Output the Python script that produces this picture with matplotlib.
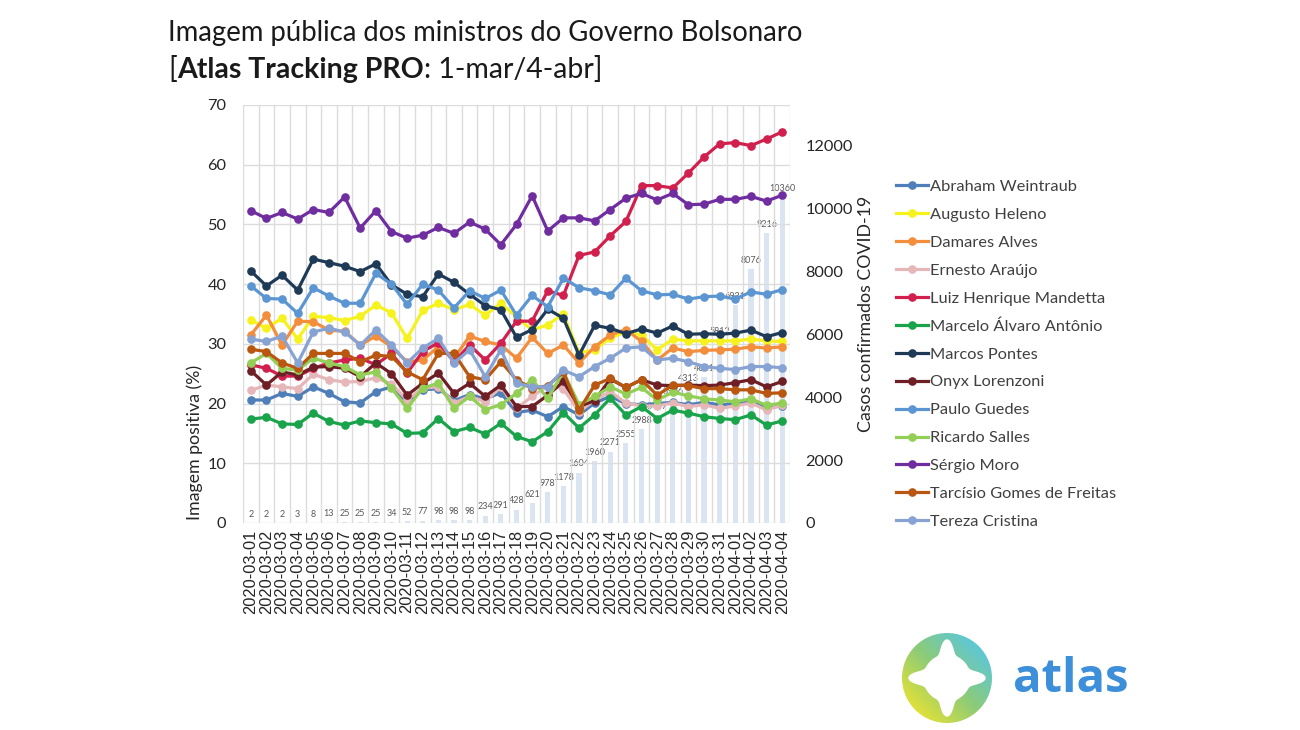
import numpy as np
import matplotlib
matplotlib.use('Agg')
import matplotlib.pyplot as plt
from matplotlib.patches import Circle, Polygon
from matplotlib.colors import LinearSegmentedColormap

# ---------------------------------------------------------
# Data
# ---------------------------------------------------------
dates = [f'2020-03-{d:02d}' for d in range(1, 32)] + [f'2020-04-{d:02d}' for d in range(1, 5)]

cases = [2, 2, 2, 3, 8, 13, 25, 25, 25, 34, 52, 77, 98, 98, 98, 234, 291, 428, 621,
         978, 1178, 1604, 1960, 2271, 2555, 2988, 3417, 3906, 4313, 4641, 5812, 6931,
         8076, 9216, 10360]

abraham = [20.6, 20.6, 21.7, 21.2, 22.8, 21.7, 20.3, 20.1, 22.0, 22.8, 20.3, 22.3, 22.5, 20.5,
           21.5, 20.8, 21.8, 18.5, 18.9, 17.8, 19.5, 18.1, 20.1, 21.2, 20.0, 19.8, 20.0, 20.2,
           19.8, 20.2, 19.8, 20.0, 20.3, 19.3, 19.6]
heleno = [34.0, 32.6, 34.3, 30.8, 34.6, 34.4, 33.9, 34.6, 36.5, 35.2, 30.9, 35.6, 36.8, 35.7,
          36.6, 34.8, 36.8, 34.5, 32.3, 33.2, 35.0, 28.5, 29.0, 31.0, 32.0, 31.5, 29.0, 30.8,
          30.5, 30.5, 30.5, 30.5, 30.8, 30.5, 30.4]
damares = [31.5, 34.8, 29.8, 33.8, 33.7, 32.3, 32.1, 29.8, 31.3, 29.5, 27.0, 27.3, 29.5, 27.6,
           31.3, 30.4, 29.8, 27.6, 31.1, 28.4, 29.8, 26.8, 29.5, 31.5, 32.4, 30.4, 27.3, 29.3,
           28.7, 28.9, 29.0, 29.1, 29.5, 29.3, 29.5]
ernesto = [22.2, 23.1, 22.8, 22.5, 24.9, 24.0, 23.6, 23.7, 24.3, 23.3, 20.6, 22.6, 22.8, 20.1,
           21.2, 20.3, 22.8, 19.2, 21.2, 23.0, 22.5, 18.6, 20.6, 22.0, 20.1, 19.6, 19.6, 20.1,
           19.5, 19.8, 19.2, 19.6, 20.1, 18.9, 19.8]
mandetta = [26.5, 25.9, 24.6, 24.6, 25.9, 26.8, 27.3, 27.6, 26.5, 28.4, 25.1, 28.7, 30.2, 27.0,
            29.8, 27.3, 30.1, 33.8, 33.8, 38.9, 38.1, 44.8, 45.4, 48.1, 50.5, 56.5, 56.5, 56.1,
            58.6, 61.3, 63.5, 63.7, 63.2, 64.3, 65.5]
marcelo = [17.4, 17.7, 16.6, 16.5, 18.4, 17.0, 16.4, 17.1, 16.8, 16.6, 15.0, 15.1, 17.5, 15.3,
           16.0, 14.9, 16.7, 14.5, 13.6, 15.3, 18.5, 15.9, 18.1, 20.9, 18.1, 19.5, 17.5, 18.9,
           18.4, 17.8, 17.5, 17.3, 18.1, 16.4, 17.1]
pontes = [42.2, 39.7, 41.5, 39.0, 44.2, 43.6, 43.0, 42.1, 43.4, 39.9, 38.3, 37.9, 41.7, 40.3,
          38.3, 36.4, 35.7, 31.1, 32.4, 35.8, 34.3, 28.1, 33.1, 32.6, 31.7, 32.5, 31.8, 33.0,
          31.6, 31.7, 31.6, 31.8, 32.3, 31.2, 31.9]
onyx = [25.5, 23.1, 25.3, 24.8, 26.1, 26.2, 25.9, 24.5, 26.8, 25.0, 21.4, 23.4, 25.1, 21.7,
        23.4, 21.2, 23.1, 19.5, 19.5, 21.4, 23.7, 19.5, 20.5, 24.1, 22.7, 24.0, 23.1, 23.0,
        23.1, 23.0, 23.1, 23.5, 24.0, 22.8, 23.7]
guedes = [39.7, 37.6, 37.5, 35.1, 39.4, 38.0, 36.8, 36.8, 41.8, 40.0, 36.6, 40.0, 39.0, 36.0,
          38.9, 37.6, 39.0, 34.8, 38.1, 36.2, 41.0, 39.4, 38.9, 38.2, 41.0, 38.9, 38.2, 38.3,
          37.5, 37.9, 38.0, 37.5, 38.7, 38.3, 39.1]
salles = [26.8, 28.4, 25.9, 25.6, 27.6, 26.8, 26.2, 24.8, 25.3, 22.6, 19.2, 22.6, 23.4, 19.2,
          21.2, 19.0, 19.8, 21.7, 24.0, 20.9, 25.3, 19.8, 21.2, 22.8, 21.6, 22.7, 20.6, 21.9,
          21.3, 20.8, 20.6, 20.3, 20.8, 19.7, 20.1]
moro = [52.3, 51.0, 52.0, 50.9, 52.5, 52.0, 54.6, 49.4, 52.3, 48.8, 47.7, 48.2, 49.5, 48.5,
        50.4, 49.2, 46.6, 50.0, 54.8, 48.9, 51.1, 51.1, 50.6, 52.5, 54.4, 55.2, 54.1, 55.2,
        53.3, 53.4, 54.2, 54.2, 54.7, 53.9, 54.9]
tarcisio = [29.1, 28.7, 26.8, 25.9, 28.4, 28.4, 28.4, 27.0, 28.1, 27.9, 25.3, 24.0, 28.4, 28.4,
            24.5, 24.0, 27.0, 24.0, 22.5, 23.0, 25.3, 18.9, 23.1, 24.2, 22.7, 24.0, 21.4, 23.1,
            23.0, 22.5, 22.5, 22.3, 22.3, 21.7, 21.8]
tereza = [30.8, 30.4, 31.3, 26.8, 32.0, 32.6, 32.0, 29.8, 32.3, 29.8, 26.8, 29.3, 30.9, 26.8,
          29.0, 24.5, 29.0, 23.4, 22.8, 22.8, 25.6, 24.5, 26.2, 27.6, 29.3, 29.5, 27.3, 27.6,
          27.0, 26.2, 25.9, 25.7, 26.2, 26.2, 26.0]

names = ['Abraham Weintraub', 'Augusto Heleno', 'Damares Alves', 'Ernesto Araújo',
         'Luiz Henrique Mandetta', 'Marcelo Álvaro Antônio', 'Marcos Pontes', 'Onyx Lorenzoni',
         'Paulo Guedes', 'Ricardo Salles', 'Sérgio Moro', 'Tarcísio Gomes de Freitas',
         'Tereza Cristina']
series = [abraham, heleno, damares, ernesto, mandetta, marcelo, pontes, onyx, guedes,
          salles, moro, tarcisio, tereza]
colors = ['#4f7fb8', '#f6f21e', '#f28e3c', '#e6b7b9', '#d11f4e', '#19a34a', '#1f3a56',
          '#6e1f25', '#5b96d2', '#93cf57', '#6f2da0', '#b9560f', '#86a3d3']

# ---------------------------------------------------------
# Figure
# ---------------------------------------------------------
plt.rcParams['font.family'] = ['Lato', 'DejaVu Sans']
fig = plt.figure(figsize=(13, 7.3), dpi=100)
fig.patch.set_facecolor('white')

ax = fig.add_axes([243 / 1300, 1 - 523 / 730, 547 / 1300, 418 / 730])
ax2 = ax.twinx()
x = np.arange(len(dates))

# COVID bars on the right axis (behind)
ax2.bar(x, cases, width=0.33, color='#dbe5f1', zorder=1)
for xi, c in zip(x, cases):
    ax2.annotate(str(c), (xi, c), xytext=(0, 3), textcoords='offset points',
                 ha='center', va='bottom', fontsize=6.5, color='#595959')
ax2.set_ylim(0, 13300)
ax2.set_yticks(range(0, 12001, 2000))
ax2.tick_params(axis='y', length=0, labelsize=11.8, labelcolor='#262626', pad=11)
ax2.set_ylabel('Casos confirmados COVID-19', fontsize=12.8, color='#262626', labelpad=4)

# minister lines on the left axis (front)
ax.set_zorder(ax2.get_zorder() + 1)
ax.patch.set_visible(False)
for name, vals, col in zip(names, series, colors):
    ax.plot(x, vals, color=col, lw=2.3, marker='o', ms=5.2, label=name, zorder=3)

ax.set_xlim(-0.5, len(dates) - 0.5)
ax.set_ylim(0, 70)
ax.set_yticks(range(0, 71, 10))
ax.set_xticks(x)
ax.set_xticklabels(dates, rotation=90, fontsize=11, family='Liberation Sans', color='#262626')
ax.tick_params(axis='both', length=0, labelsize=11.8, labelcolor='#262626')
ax.tick_params(axis='y', pad=12)
ax.tick_params(axis='x', pad=5)
ax.set_xticks(np.arange(-0.5, len(dates)), minor=True)
ax.grid(False)
ax.grid(axis='x', which='minor', color='#dcdcdc', lw=1)
ax.grid(axis='y', which='major', color='#dcdcdc', lw=1)
ax.tick_params(axis='x', which='minor', length=0)
for a in (ax, ax2):
    for s in a.spines.values():
        s.set_visible(False)
ax.set_axisbelow(True)

fig.text(195 / 1300, 1 - 442 / 730, 'Imagem positiva (%)', rotation=90, fontsize=12.8,
         color='#262626', ha='center', va='center')

leg = ax.legend(loc='upper left', bbox_to_anchor=(889 / 1300, 1 - 173 / 730),
                bbox_transform=fig.transFigure, frameon=False, fontsize=11.8,
                handlelength=2.0, handletextpad=0.1, labelspacing=0.82, borderaxespad=0)
for t in leg.get_texts():
    t.set_color('#404040')

# title
fig.text(168 / 1300, 1 - 33 / 730, 'Imagem pública dos ministros do Governo Bolsonaro',
         fontsize=19.8, color='#1a1a1a', va='center', ha='left')
renderer = fig.canvas.get_renderer()
xpos = 168 / 1300
for txt, wt in [('[', 'normal'), ('Atlas Tracking PRO', 'bold'), (': 1-mar/4-abr]', 'normal')]:
    t = fig.text(xpos, 1 - 70 / 730, txt, fontsize=20.5, fontweight=wt, color='#1a1a1a',
                 va='center', ha='left')
    bb = t.get_window_extent(renderer=renderer)
    xpos += bb.width / fig.bbox.width

# atlas logo
lax = fig.add_axes([(947 - 50) / 1300, 1 - (678 + 50) / 730, 100 / 1300, 100 / 730])
lax.set_xlim(-1, 1)
lax.set_ylim(-1, 1)
lax.set_aspect('equal')
lax.axis('off')
gx, gy = np.meshgrid(np.linspace(-1, 1, 200), np.linspace(-1, 1, 200))
grad = (gx + gy) / 2
cmap = LinearSegmentedColormap.from_list('atlas', ['#f4e62a', '#8ccb78', '#52c6ee'])
im = lax.imshow(grad, extent=(-1, 1, -1, 1), origin='lower', cmap=cmap, vmin=-0.8, vmax=0.8)
im.set_clip_path(Circle((0, 0), 0.9, transform=lax.transData))
th = np.linspace(0, 2 * np.pi, 400)
r = 0.46 + 0.3 * np.abs(np.cos(2 * th)) ** 10
lax.add_patch(Polygon(np.column_stack([r * np.cos(th), r * np.sin(th)]), closed=True,
                      color='white', zorder=3))
fig.text(1013 / 1300, 1 - 680 / 730, 'atlas', fontsize=34, fontweight='bold',
         color='#3c8fd8', family='Open Sans', va='center', ha='left')

fig.savefig('out.png', dpi=100)
